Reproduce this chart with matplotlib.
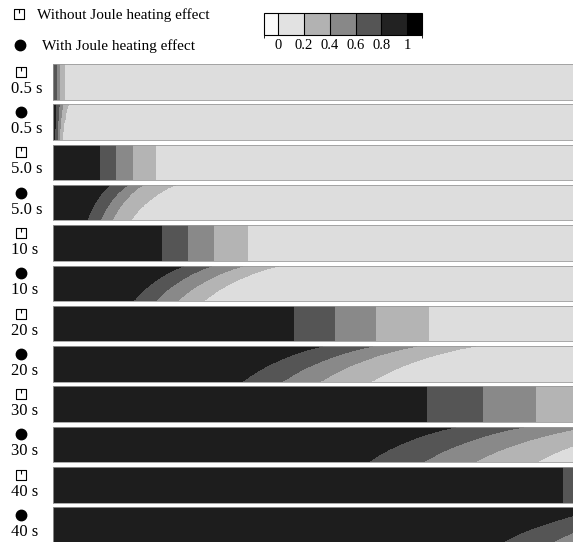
import numpy as np
import matplotlib as mpl
import matplotlib.pyplot as plt
from matplotlib.colors import ListedColormap, BoundaryNorm
from matplotlib.path import Path

plt.rcParams['font.family'] = ['Liberation Serif', 'DejaVu Serif']

times = ['0.5 s', '5.0 s', '10 s', '20 s', '30 s', '40 s']
levels = [0.8, 0.6, 0.4, 0.2]

# contour positions along the channel (x/L) without Joule heating: flat fronts
plain_fronts = [
    [0.003, 0.008, 0.013, 0.023],
    [0.091, 0.121, 0.153, 0.197],
    [0.210, 0.260, 0.310, 0.375],
    [0.462, 0.542, 0.621, 0.723],
    [0.719, 0.827, 0.929, 1.052],
    [0.981, 1.090, 1.196, 1.321],
]
# with Joule heating: contour positions at the bottom wall and at the top wall
joule_bottom = [
    [0.004, 0.008, 0.012, 0.017],
    [0.065, 0.090, 0.113, 0.148],
    [0.154, 0.196, 0.238, 0.288],
    [0.363, 0.440, 0.513, 0.610],
    [0.604, 0.710, 0.808, 0.927],
    [0.860, 0.956, 1.042, 1.129],
]
joule_top = [
    [0.006, 0.012, 0.019, 0.029],
    [0.110, 0.144, 0.173, 0.235],
    [0.254, 0.308, 0.369, 0.437],
    [0.519, 0.615, 0.700, 0.812],
    [0.777, 0.908, 1.033, 1.148],
    [1.080, 1.180, 1.280, 1.400],
]
# front shape across the channel height (0 = bottom wall, 1 = top wall)
front_eta = [0, 0.05, 0.15, 0.3, 0.45, 0.6, 0.75, 0.9, 1.0]
front_shape = [0, 0.04, 0.1, 0.2, 0.32, 0.46, 0.62, 0.82, 1.0]

band_colors = ['#dddddd', '#b4b4b4', '#898989', '#555555', '#1d1d1d']
bar_colors = ['#fbfbfb', '#e2e2e2', '#b2b2b2', '#888888', '#555555', '#222222', '#000000']
bar_bounds = [-0.11, 0, 0.2, 0.4, 0.6, 0.8, 1.0, 1.115]
bar_ticks = [0, 0.2, 0.4, 0.6, 0.8, 1]


def field(bottom, top, x, eta):
    s = np.interp(eta, front_eta, front_shape)
    c = np.empty((len(eta), len(x)))
    for j, sj in enumerate(s):
        b = [bb + (tt - bb) * sj for bb, tt in zip(bottom, top)]
        xp = [b[0] - 0.5] + b + [b[-1] + 0.5]
        c[j] = np.interp(x, xp, [1.0] + levels + [0.0])
    return c


# square marker with a small notch from the top edge
sq_marker = Path([(-1, -1), (1, -1), (1, 1), (-1, 1), (-1, -1), (0, 1), (0, 0.2)],
                 [Path.MOVETO, Path.LINETO, Path.LINETO, Path.LINETO, Path.CLOSEPOLY,
                  Path.MOVETO, Path.LINETO])

W, H = 573, 542
fig = plt.figure(figsize=(W / 100, H / 100), dpi=100)

overlay = fig.add_axes([0, 0, 1, 1])
overlay.set_xlim(0, W)
overlay.set_ylim(H, 0)
overlay.axis('off')

x = np.linspace(0, 1, 900)
eta = np.linspace(0, 1, 150)

left, right = 53, 573
top0, pitch, strip_h = 64, 40.3, 35.5

rows = []
for i, t in enumerate(times):
    rows.append((False, t, plain_fronts[i], plain_fronts[i]))
    rows.append((True, t, joule_bottom[i], joule_top[i]))

for k, (joule, t, bot, top) in enumerate(rows):
    y_top = top0 + k * pitch
    ax = fig.add_axes([left / W, 1 - (y_top + strip_h) / H, (right - left) / W, strip_h / H])
    c = field(bot, top, x, eta)
    ax.contourf(x, eta, c, levels=[-0.01, 0.2, 0.4, 0.6, 0.8, 1.01], colors=band_colors)
    ax.set_xlim(0, 1)
    ax.set_ylim(0, 1)
    ax.set_xticks([])
    ax.set_yticks([])
    for s in ax.spines.values():
        s.set_color('#9a9a9a')
        s.set_linewidth(0.6)

    yc = y_top + strip_h / 2
    overlay.text(11, yc + 7, t, fontsize=12, va='center', ha='left')
    if joule:
        overlay.plot(21, yc - 10, marker='o', ms=7.5, color='black')
    else:
        overlay.plot(21, yc - 10, marker=sq_marker, ms=7, mfc='white', mec='black', mew=0.8)

# legend
overlay.plot(19, 14, marker=sq_marker, ms=7, mfc='white', mec='black', mew=0.8)
overlay.text(37, 15, 'Without Joule heating effect', fontsize=11, va='center')
overlay.plot(20, 45, marker='o', ms=7.5, color='black')
overlay.text(42, 46, 'With Joule heating effect', fontsize=11, va='center')

# grey-scale bar
cax = fig.add_axes([264 / W, 1 - 35 / H, (422 - 264) / W, 22 / H])
cmap = ListedColormap(bar_colors)
norm = BoundaryNorm(bar_bounds, cmap.N)
cb = mpl.colorbar.ColorbarBase(cax, cmap=cmap, norm=norm, boundaries=bar_bounds,
                               spacing='proportional', orientation='horizontal',
                               drawedges=True, ticks=bar_ticks)
cb.set_ticklabels(['0', '0.2', '0.4', '0.6', '0.8', '1'])
cb.ax.tick_params(length=0, labelsize=10.5, pad=3)
cb.outline.set_linewidth(0.8)
cb.dividers.set_linewidth(0.8)

fig.savefig('out.png', dpi=100)
